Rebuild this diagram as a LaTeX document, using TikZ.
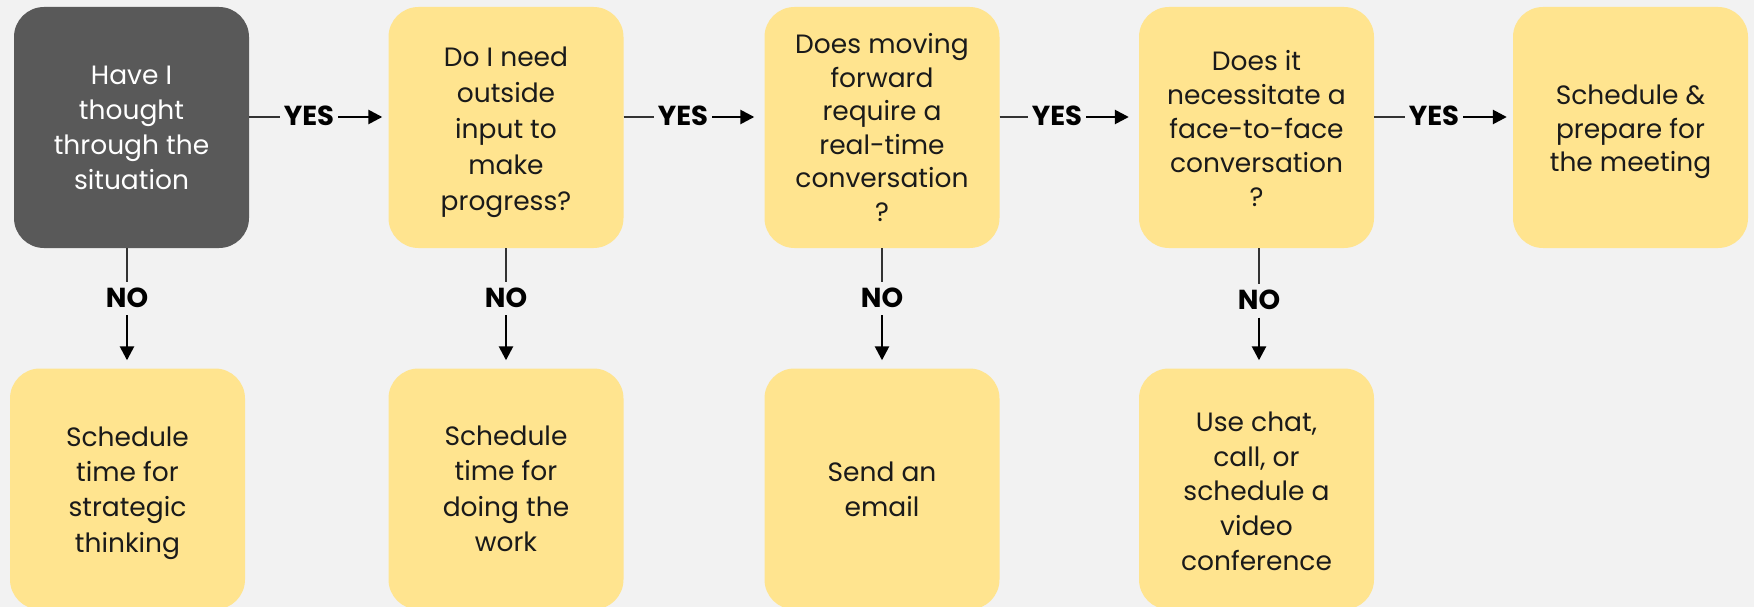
\documentclass[tikz,border=0pt]{standalone}
\usepackage{fontspec}
\setmainfont{Poppins}
\usetikzlibrary{arrows.meta}
\definecolor{bg}{HTML}{F2F2F2}
\definecolor{dark}{HTML}{595959}
\definecolor{yel}{HTML}{FFE48F}
\definecolor{txt}{HTML}{1A1A1A}
\definecolor{thinline}{HTML}{333333}
\tikzset{
  box/.style={rounded corners=30pt, minimum width=235pt, minimum height=241pt,
    inner sep=0pt, fill=yel},
  darkbox/.style={box, fill=dark},
  boxtext/.style={inner sep=0pt, align=center, text=txt,
    font=\fontsize{26.5}{#1}\selectfont},
  boxtext/.default=35,
  whitetext/.style={boxtext=#1, text=white},
  whitetext/.default=35,
  lab/.style={font=\bfseries\fontsize{27.5}{27.5}\selectfont, text=black, text height=17pt, text depth=0pt, inner xsep=4pt, inner ysep=8pt},
  stub/.style={draw=thinline, line width=1.3pt},
  arr/.style={draw=black, line width=2.6pt, -{Triangle[length=14pt,width=14pt]}}
}
\begin{document}
\begin{tikzpicture}[x=1pt,y=-1pt]
\useasboundingbox (0,0) rectangle (1754,607);
\fill[bg] (0,0) rectangle (1754,607);

% top row
\node[darkbox] (q1) at (131.5,127.5) {};
\node[box] (q2) at (506,127.5) {};
\node[box] (q3) at (882,127.5) {};
\node[box] (q4) at (1256.5,127.5) {};
\node[box] (q5) at (1630.5,127.5) {};
\node[whitetext=35] (t1) at (q1.center) {Have I\\thought\\through the\\situation};
\node[boxtext=36] (t2) at ([yshift=-4.5pt]q2.center) {Do I need\\outside\\input to\\make\\progress?};
\node[boxtext=33.6] (t3) at (q3.center) {Does moving\\forward\\require a\\real-time\\conversation\\?};
\node[boxtext=33.8] (t4) at ([yshift=-1pt]q4.center) {Does it\\necessitate a\\face-to-face\\conversation\\?};
\node[boxtext=33.6] (t5) at ([yshift=-4.5pt]q5.center) {Schedule \&\\prepare for\\the meeting};

% bottom row
\node[box] (a1) at (127.5,489) {};
\node[box] (a2) at (506,489) {};
\node[box] (a3) at (882,489) {};
\node[box] (a4) at (1256.5,489) {};
\node[boxtext=35.4] (s1) at ([yshift=-4pt]a1.center) {Schedule\\time for\\strategic\\thinking};
\node[boxtext=35.4] (s2) at (a2.center) {Schedule\\time for\\doing the\\work};
\node[boxtext=35] (s3) at (a3.center) {Send an\\email};
\node[boxtext=34.7] (s4) at ([yshift=-2.2pt]a4.center) {Use chat,\\call, or\\schedule a\\video\\conference};

% YES connectors
\node[lab] (y1) at (309,117) {YES};
\node[lab] (y2) at (683,117) {YES};
\node[lab] (y3) at (1057,117) {YES};
\node[lab] (y4) at (1434,117) {YES};
\draw[stub] (q1.east |- y1) -- (y1.west);
\draw[arr, shorten >=6pt] (y1.east) -- (q2.west |- y1);
\draw[stub] (q2.east |- y2) -- (y2.west);
\draw[arr, shorten >=10pt] (y2.east) -- (q3.west |- y2);
\draw[stub] (q3.east |- y3) -- (y3.west);
\draw[arr, shorten >=10pt] (y3.east) -- (q4.west |- y3);
\draw[stub] (q4.east |- y4) -- (y4.west);
\draw[arr, shorten >=6pt] (y4.east) -- (q5.west |- y4);

% NO connectors
\node[lab] (n1) at (127,298.5) {NO};
\node[lab] (n2) at (506,298.5) {NO};
\node[lab] (n3) at (882,298.5) {NO};
\node[lab] (n4) at (1259,301) {NO};
\draw[stub] (n1 |- q1.south) -- (n1.north);
\draw[arr, shorten >=8pt] (n1.south) -- (n1 |- a1.north);
\draw[stub] (n2 |- q2.south) -- (n2.north);
\draw[arr, shorten >=8pt] (n2.south) -- (n2 |- a2.north);
\draw[stub] (n3 |- q3.south) -- (n3.north);
\draw[arr, shorten >=8pt] (n3.south) -- (n3 |- a3.north);
\draw[stub] (n4 |- q4.south) -- (n4.north);
\draw[arr, shorten >=8pt] (n4.south) -- (n4 |- a4.north);
\end{tikzpicture}
\end{document}
